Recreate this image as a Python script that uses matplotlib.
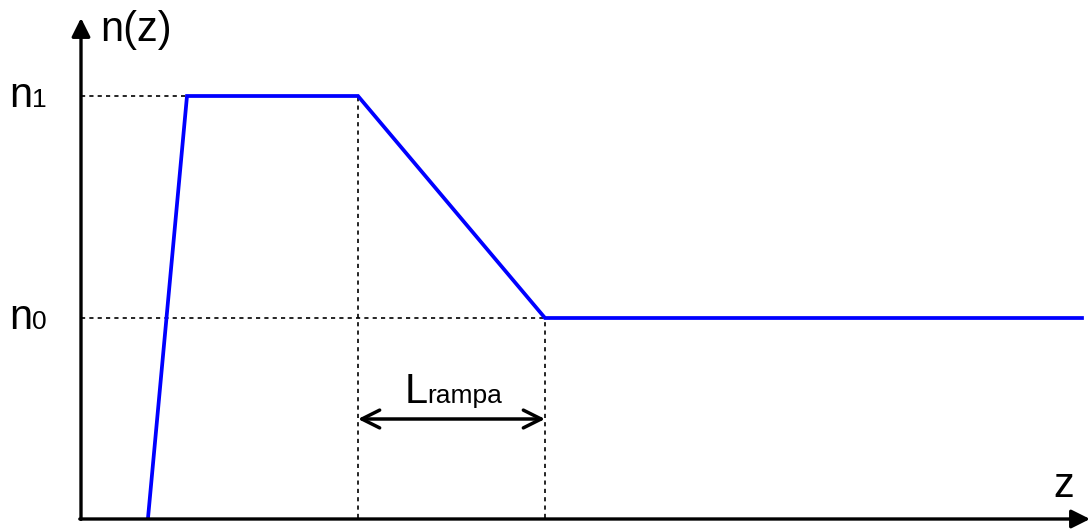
import matplotlib.pyplot as plt

# breakpoints of the index profile n(z)
z_pts = [0.67, 1.06, 2.77, 4.64, 10.01]
n_pts = [0.0, 2.11, 2.11, 1.0, 1.0]
n0 = 1.0
n1 = 2.11
z_ramp0 = 2.77
z_ramp1 = 4.64

plt.rcParams['font.family'] = ['Liberation Sans', 'DejaVu Sans']

fig = plt.figure(figsize=(10.92, 5.29), dpi=100)
ax = fig.add_axes([0, 0, 1, 1])
ax.set_xlim(-0.81, 10.11)
ax.set_ylim(-0.055, 2.59)
ax.axis('off')

# axes with arrows
ax.annotate('', xy=(0, 2.5), xytext=(0, -0.007),
            arrowprops=dict(arrowstyle='-|>', lw=2.4, color='k', mutation_scale=28, shrinkA=0, shrinkB=0))
ax.annotate('', xy=(10.09, -0.005), xytext=(-0.012, -0.005),
            arrowprops=dict(arrowstyle='-|>', lw=2.4, color='k', mutation_scale=28, shrinkA=0, shrinkB=0))

# dashed guides
dash = dict(color='k', lw=1.2, linestyle=(0, (2.5, 2.5)))
ax.plot([0, z_pts[1]], [n1, n1], **dash)
ax.plot([0, z_ramp1], [n0, n0], **dash)
ax.plot([z_ramp0, z_ramp0], [0, n1], **dash)
ax.plot([z_ramp1, z_ramp1], [0, n0], **dash)

# profile
ax.plot(z_pts, n_pts, color='#0000ff', lw=2.7, solid_joinstyle='miter')

# ramp length
ax.annotate('', xy=(z_ramp0, 0.495), xytext=(z_ramp1, 0.495),
            arrowprops=dict(arrowstyle='<->', lw=2.5, color='k', mutation_scale=32, shrinkA=0, shrinkB=0))

big = 30
small = 19
ax.text(0.19, 2.385, 'n(z)', fontsize=big, va='baseline')
ax.text(-0.72, n1 - 0.055, 'n', fontsize=big, va='baseline')
ax.text(-0.49, n1 - 0.055, '1', fontsize=small, va='baseline')
ax.text(-0.72, n0 - 0.055, 'n', fontsize=big, va='baseline')
ax.text(-0.49, n0 - 0.055, '0', fontsize=small, va='baseline')
ax.text(9.72, 0.105, 'z', fontsize=big, va='baseline')
ax.text(3.24, 0.575, 'L', fontsize=big, va='baseline')
ax.text(3.46, 0.575, 'rampa', fontsize=small, va='baseline')

fig.savefig('out.png', dpi=100)
